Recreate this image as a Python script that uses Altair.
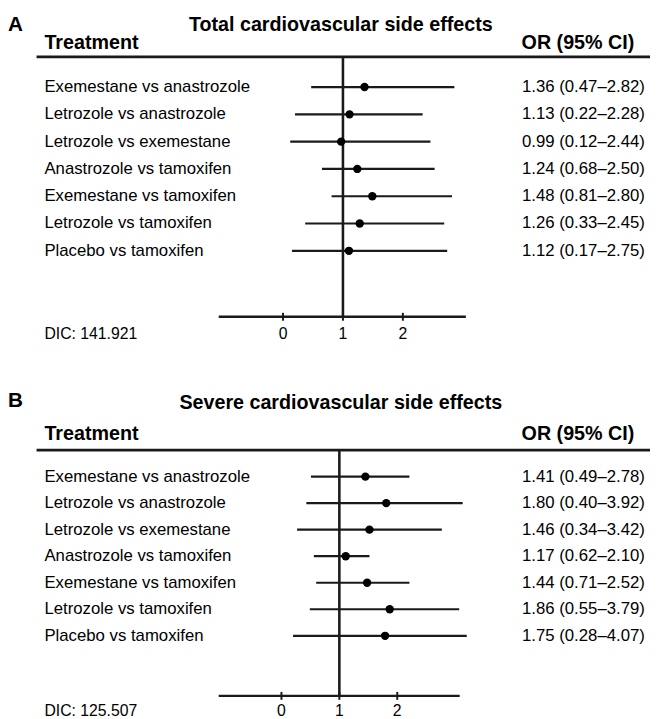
import altair as alt
import pandas as pd

FONT = "Liberation Sans"
INK = "#1a1a1a"

treatments = [
    "Exemestane vs anastrozole",
    "Letrozole vs anastrozole",
    "Letrozole vs exemestane",
    "Anastrozole vs tamoxifen",
    "Exemestane vs tamoxifen",
    "Letrozole vs tamoxifen",
    "Placebo vs tamoxifen",
]

# Panel A: plotted positions
a_est = [1.36, 1.11, 0.97, 1.24, 1.49, 1.28, 1.10]
a_lo = [0.47, 0.20, 0.12, 0.65, 0.81, 0.37, 0.15]
a_hi = [2.86, 2.33, 2.46, 2.53, 2.82, 2.69, 2.74]
a_text = [
    "1.36 (0.47–2.82)",
    "1.13 (0.22–2.28)",
    "0.99 (0.12–2.44)",
    "1.24 (0.68–2.50)",
    "1.48 (0.81–2.80)",
    "1.26 (0.33–2.45)",
    "1.12 (0.17–2.75)",
]

# Panel B: plotted positions
b_est = [1.45, 1.81, 1.52, 1.11, 1.48, 1.87, 1.79]
b_lo = [0.51, 0.43, 0.27, 0.56, 0.60, 0.49, 0.20]
b_hi = [2.21, 3.13, 2.77, 1.52, 2.21, 3.07, 3.20]
b_text = [
    "1.41 (0.49–2.78)",
    "1.80 (0.40–3.92)",
    "1.46 (0.34–3.42)",
    "1.17 (0.62–2.10)",
    "1.44 (0.71–2.52)",
    "1.86 (0.55–3.79)",
    "1.75 (0.28–4.07)",
]

tick_values = [0, 1, 2]
ref_value = [1]


def txt(s, x, y, size, bold=False, align="left", baseline="alphabetic", clip=False):
    return alt.Chart(pd.DataFrame({"t": [s]})).mark_text(
        align=align, baseline=baseline, font=FONT, fontSize=size,
        fontWeight="bold" if bold else "normal", color="black", clip=clip,
    ).encode(x=alt.value(x), y=alt.value(y), text="t:N")


def panel(letter, title, est, lo, hi, labels, dic, xdom, ydom, H, g):
    W = 652
    X = alt.Scale(domain=xdom)
    Y = alt.Scale(domain=ydom, reverse=True)
    df = pd.DataFrame({"row": list(range(len(treatments))), "treatment": treatments,
                       "est": est, "lo": lo, "hi": hi, "txt": labels})
    base = alt.Chart(df)
    ci = base.mark_rule(color=INK, strokeWidth=2.2).encode(
        x=alt.X("lo:Q", scale=X, axis=None), x2="hi:Q",
        y=alt.Y("row:Q", scale=Y, axis=None))
    dots = base.mark_circle(color="black", size=72, opacity=1).encode(
        x=alt.X("est:Q", scale=X, axis=None), y=alt.Y("row:Q", scale=Y, axis=None))
    names = base.mark_text(align="left", baseline="middle", font=FONT, fontSize=17,
                           color="black").encode(
        x=alt.value(g["lab_x"]), y=alt.Y("row:Q", scale=Y, axis=None), text="treatment:N")
    ors = base.mark_text(align="left", baseline="middle", font=FONT, fontSize=17,
                         color="black").encode(
        x=alt.value(g["or_x"]), y=alt.Y("row:Q", scale=Y, axis=None), text="txt:N")

    ref = alt.Chart(pd.DataFrame({"r": ref_value})).mark_rule(color=INK, strokeWidth=2.6).encode(
        x=alt.X("r:Q", scale=X, axis=None), y=alt.value(g["head_y"]), y2=alt.value(g["axis_y"]))
    head = alt.Chart(pd.DataFrame({"a": [0]})).mark_rule(color=INK, strokeWidth=2.8).encode(
        x=alt.value(g["head_x0"]), x2=alt.value(W), y=alt.value(g["head_y"]))
    axis_line = alt.Chart(pd.DataFrame({"a": [0]})).mark_rule(color=INK, strokeWidth=2.4).encode(
        x=alt.value(g["ax_x0"]), x2=alt.value(g["ax_x1"]), y=alt.value(g["axis_y"]))
    tdf = pd.DataFrame({"t": tick_values})
    ticks = alt.Chart(tdf).mark_rule(color=INK, strokeWidth=2).encode(
        x=alt.X("t:Q", scale=X, axis=None), y=alt.value(g["axis_y"] - 4), y2=alt.value(g["axis_y"] + 4))
    tlabels = alt.Chart(tdf).mark_text(align="center", baseline="middle", font=FONT, fontSize=16,
                                        color="black").encode(
        x=alt.X("t:Q", scale=X, axis=None), y=alt.value(g["tick_lab_y"]), text="t:Q")

    layers = [
        txt(letter, 0, g["letter_y"], 21, bold=True),
        txt(title, g["title_x"], g["title_y"], 20, bold=True, align="center"),
        txt("Treatment", g["lab_x"], g["head_text_y"], 20, bold=True),
        txt("OR (95% CI)", g["or_right"], g["head_text_y"], 20, bold=True, align="right"),
        head, ref, ci, dots, names, ors, axis_line, ticks, tlabels,
        txt(dic, g["lab_x"], g["tick_lab_y"], 16, baseline="middle"),
    ]
    return alt.layer(*layers).properties(width=W, height=H)


geoA = dict(letter_y=15.5, title_x=338, title_y=15.5, lab_x=37, or_x=522, or_right=636,
            head_text_y=34, head_x0=29, head_y=42, axis_y=306, ax_x0=214, ax_x1=465,
            tick_lab_y=323.7)
geoB = dict(letter_y=15.5, title_x=338, title_y=18, lab_x=37, or_x=522, or_right=636,
            head_text_y=49, head_x0=29, head_y=59.5, axis_y=309, ax_x0=214, ax_x1=458.7,
            tick_lab_y=324.5)

pA = panel("A", "Total cardiovascular side effects", a_est, a_lo, a_hi, a_text,
           "DIC: 141.921", [-4.590, 6.125], [-2.623, 11.086], 380, geoA)
pB = panel("B", "Severe cardiovascular side effects", b_est, b_lo, b_hi, b_text,
           "DIC: 125.507", [-4.723, 6.366], [-3.202, 9.080], 331, geoB)

chart = alt.vconcat(pA, pB, spacing=0).properties(padding=0).configure_view(stroke=None)

chart.save("out.html", embed_options={"renderer": "svg", "actions": False})
